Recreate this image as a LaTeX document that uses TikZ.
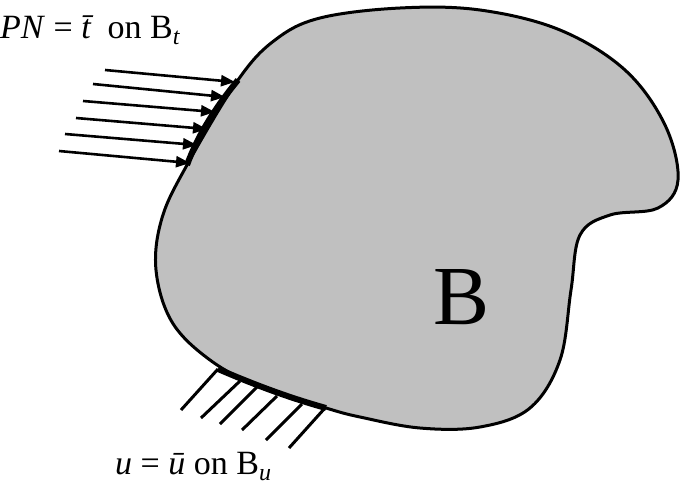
\documentclass[tikz,border=0pt]{standalone}
\usepackage{fontspec}
\setmainfont{Liberation Serif}
\usetikzlibrary{arrows.meta}
\begin{document}
\begin{tikzpicture}[x=1pt,y=-1pt,
  body/.style={fill={rgb,255:red,192;green,192;blue,192},draw=black,line width=3pt},
  load/.style={line width=2.6pt,-{Triangle[length=14pt,width=11pt]}},
  hatch/.style={line width=3pt},
  support/.style={line width=6pt},
  lbl/.style={inner sep=0pt,font=\fontsize{34}{40}\selectfont}]
\useasboundingbox (0,0) rectangle (685,491);
\draw[body] plot[smooth cycle,tension=0.6] coordinates{(238,80) (275,40) (320,18) (400,8) (480,10) (560,30) (625,70) (665,125) (678,180) (658,208) (610,215) (580,235) (571,290) (560,360) (530,408) (480,427) (420,428) (360,417) (326,408) (260,387) (210,360) (172,322) (156,270) (162,218) (187,165)};
\draw[support] (238,80) .. controls (215,108) and (198,135) .. (187,165);
\draw[support] (218,369) .. controls (255,385) and (290,398) .. (326,408);
\foreach \a/\b/\c/\d [count=\i] in {105/70/235/82, 93/84/225/97, 83/101/215/112, 76/118/207/129, 65/134/197/145, 59/151/190/163}{
  \coordinate (s\i) at (\a,\b); \coordinate (e\i) at (\c,\d);
  \draw[load] (s\i) -- (e\i);}
\foreach \a/\b/\c/\d [count=\i] in {218/369/181/410, 240/381/201/418, 257/387/220/424, 277/396/242/430, 302/404/266/440, 325/408/289/448}{
  \coordinate (t\i) at (\a,\b); \coordinate (f\i) at (\c,\d);
  \draw[hatch] (t\i) -- (f\i);}
\node[lbl,anchor=base west] (top) at (0,38) {\textit{PN} = \textit{\=t} on B\raisebox{-6pt}{\fontsize{24}{28}\selectfont\textit{t}}};
\node[lbl,anchor=base west] (bot) at (115,474) {\textit{u} = \textit{\=u} on B\raisebox{-6pt}{\fontsize{24}{28}\selectfont\textit{u}}};
\node[inner sep=0pt,font=\fontsize{84}{90}\selectfont] (B) at (462,297) {B};
\end{tikzpicture}
\end{document}
